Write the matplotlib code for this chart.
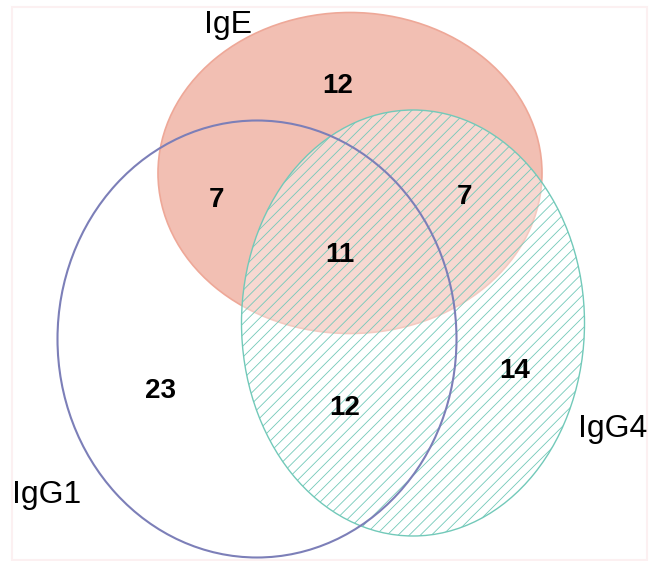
# venn_isotypes.py
import matplotlib
matplotlib.use("Agg")
from matplotlib import pyplot as plt
from matplotlib.patches import Ellipse, Rectangle

plt.rcParams['font.family'] = ['Liberation Sans', 'DejaVu Sans']
plt.rcParams['hatch.linewidth'] = 0.6

# sets and region counts
set_names = ["IgE", "IgG1", "IgG4"]
region_names = ["IgE only", "IgE & IgG1", "IgE & IgG4", "all three",
                "IgG1 only", "IgG1 & IgG4", "IgG4 only"]
region_counts = [12, 7, 7, 11, 23, 12, 14]

# layout (pixel space, y down)
ellipses = {
    "IgE":  dict(xy=(350, 173), w=384, h=321),
    "IgG1": dict(xy=(257, 339), w=399, h=437),
    "IgG4": dict(xy=(413, 323), w=343, h=426),
}
set_label_pos = {"IgE": (228, 33), "IgG1": (47, 503), "IgG4": (613, 437)}
count_pos = [(338, 93), (216, 207), (465, 204), (340, 262),
             (161, 398), (345, 415), (515, 378)]

fig = plt.figure(figsize=(6.52, 5.61), dpi=100)
ax = fig.add_axes([0, 0, 1, 1])
ax.set_xlim(0, 652)
ax.set_ylim(561, 0)
ax.axis('off')

# faint frame
ax.add_patch(Rectangle((12, 7), 635, 553, fill=False, edgecolor='#fcf0f1', linewidth=1.5))

e = ellipses["IgE"]
ax.add_patch(Ellipse(e["xy"], e["w"], e["h"], facecolor='#f2bfb3', edgecolor='#eea898', linewidth=1.2, zorder=1))

e = ellipses["IgG4"]
ax.add_patch(Ellipse(e["xy"], e["w"], e["h"], facecolor=(1, 1, 1, 0.4), edgecolor='#72c9b9',
                     hatch='///', linewidth=1.0, zorder=2))

e = ellipses["IgG1"]
ax.add_patch(Ellipse(e["xy"], e["w"], e["h"], fill=False, edgecolor='#7c7fb8', linewidth=1.5, zorder=3))

for name in set_names:
    x, y = set_label_pos[name]
    ax.text(x, y, name, fontsize=23, ha='center', va='baseline', zorder=5)

for (x, y), n in zip(count_pos, region_counts):
    ax.text(x, y, str(n), fontsize=20, fontweight='bold', ha='center', va='baseline', zorder=5)

plt.savefig("out.png", dpi=100)
